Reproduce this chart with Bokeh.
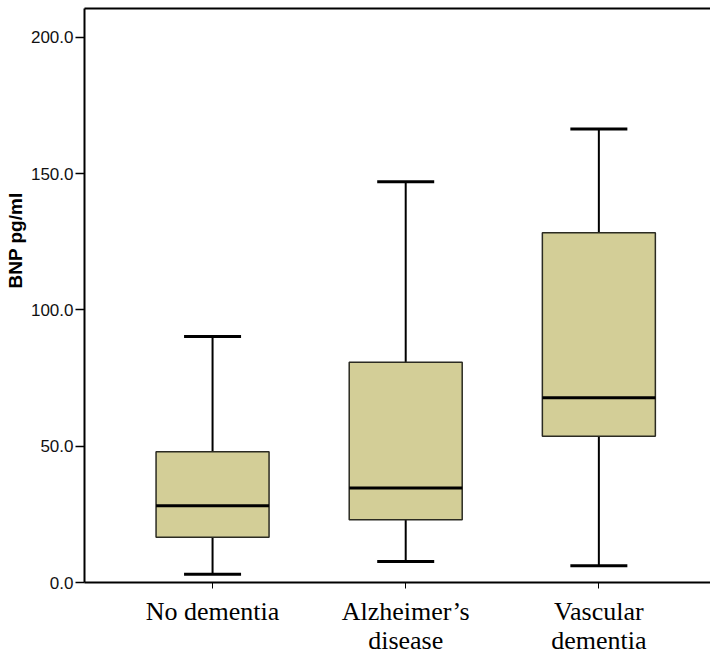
from bokeh.plotting import figure
from bokeh.models import (ColumnDataSource, Range1d, FixedTicker, NumeralTickFormatter,
                          LinearAxis, Whisker, TeeHead, Title)
from bokeh.embed import file_html
from bokeh.resources import INLINE

# ---- data ----
categories = ["No dementia", "Alzheimer’s\ndisease", "Vascular\ndementia"]
lower_whisker = [3.0, 7.7, 6.1]
q1 = [16.6, 23.0, 53.7]
median = [28.2, 34.7, 67.8]
q3 = [48.0, 80.8, 128.3]
upper_whisker = [90.3, 147.0, 166.4]
y_ticks = [0, 50, 100, 150, 200]

positions = list(range(1, len(categories) + 1))
box_w = 0.585

src = ColumnDataSource(dict(
    x=positions, lo=lower_whisker, q1=q1, med=median, q3=q3, hi=upper_whisker,
    x0=[p - box_w / 2 for p in positions], x1=[p + box_w / 2 for p in positions],
))

p = figure(width=710, height=657, output_backend="svg", toolbar_location=None,
           x_range=Range1d(0.337, 3.578), y_range=Range1d(0, 210.6),
           min_border_left=77, min_border_right=0, min_border_top=8, min_border_bottom=73)
p.outline_line_color = None
p.grid.visible = False
p.background_fill_color = "white"
p.border_fill_color = "white"

# whiskers
up = Whisker(source=src, base="x", lower="q3", upper="hi", dimension="height",
             line_color="black", line_width=2,
             upper_head=TeeHead(size=57, line_color="black", line_width=3), lower_head=None)
dn = Whisker(source=src, base="x", lower="lo", upper="q1", dimension="height",
             line_color="black", line_width=2,
             lower_head=TeeHead(size=57, line_color="black", line_width=3), upper_head=None)
p.add_layout(up)
p.add_layout(dn)

# boxes
p.vbar(x="x", bottom="q1", top="q3", width=box_w, source=src,
       fill_color="#D3CE97", line_color="#2b2b22", line_width=1.5)
# medians
p.segment(x0="x0", x1="x1", y0="med", y1="med", source=src, line_color="black", line_width=3)

# y axis
ya = p.yaxis[0]
ya.ticker = FixedTicker(ticks=y_ticks)
ya.formatter = NumeralTickFormatter(format="0.0")
ya.major_label_text_font = "Liberation Sans"
ya.major_label_text_font_size = "17px"
ya.major_label_text_color = "#111111"
ya.major_label_standoff = 2
ya.major_tick_out = 9
ya.major_tick_in = 0
ya.minor_tick_out = 0
ya.minor_tick_in = 0
ya.axis_line_width = 2
ya.major_tick_line_width = 1.5
ya.axis_line_color = "black"

ytitle = Title(text="BNP pg/ml", align="right", offset=184,
               text_font="Liberation Sans", text_font_style="bold",
               text_font_size="19px", text_color="black", standoff=4)
p.add_layout(ytitle, "left")

# x axis
xa = p.xaxis[0]
xa.ticker = FixedTicker(ticks=positions)
xa.major_label_overrides = {pos: lab for pos, lab in zip(positions, categories)}
xa.major_label_text_font = "Liberation Serif"
xa.major_label_text_font_size = "26px"
xa.major_label_text_color = "black"
xa.major_label_text_line_height = 1.0
xa.major_label_standoff = 8
xa.major_tick_out = 6
xa.major_tick_in = 0
xa.minor_tick_out = 0
xa.axis_line_width = 2
xa.axis_line_color = "black"

# top border
top = LinearAxis(ticker=FixedTicker(ticks=[]), major_label_text_font_size="0px",
                 major_tick_out=0, major_tick_in=0, minor_tick_out=0, minor_tick_in=0,
                 axis_line_width=2, axis_line_color="black", major_label_standoff=0)
p.add_layout(top, "above")

open("out.html", "w").write(file_html(p, INLINE))
